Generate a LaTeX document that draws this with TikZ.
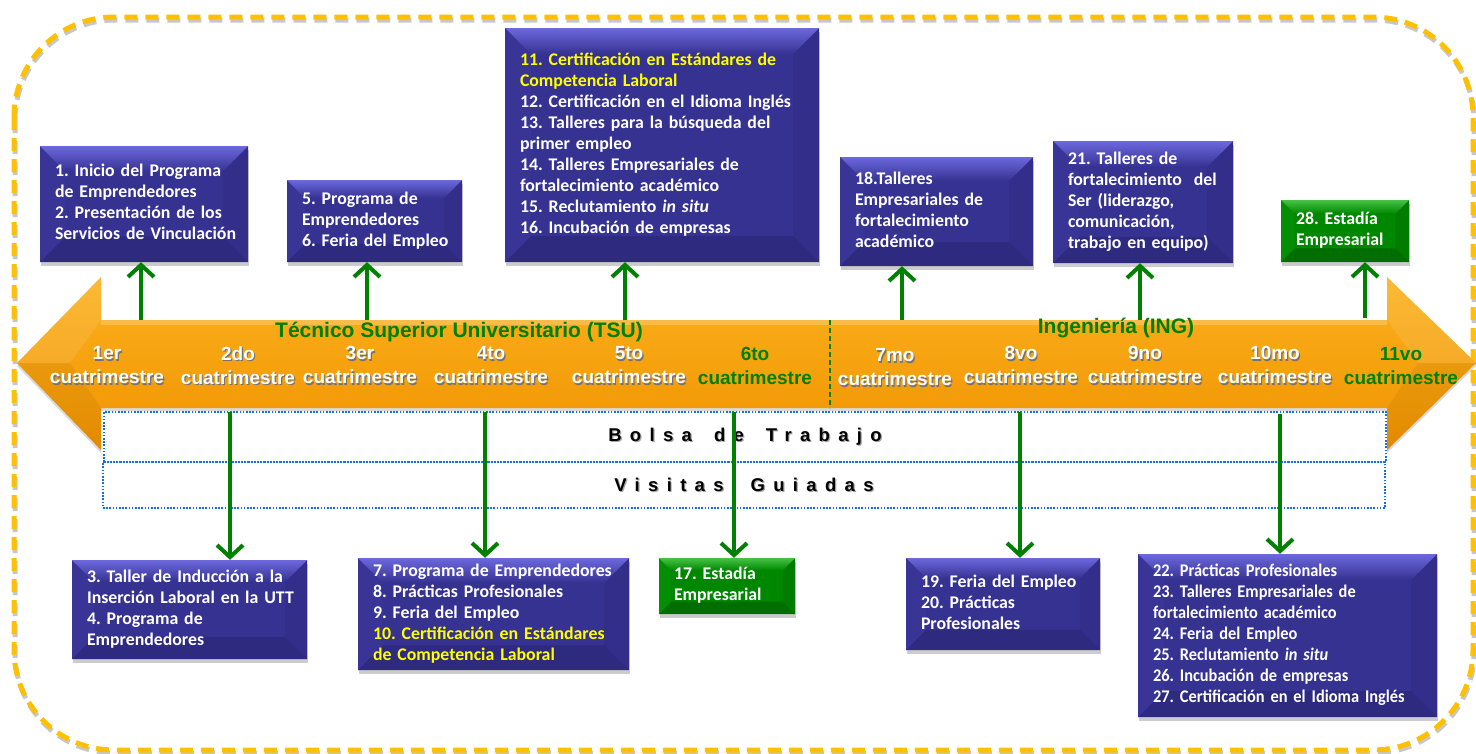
\documentclass[tikz,border=0pt]{standalone}
\usepackage{fontspec}
\usetikzlibrary{arrows.meta,shadows,calc}

\newfontfamily\cardfont{Carlito}[BoldFont={* Bold},BoldItalicFont={* Bold Italic}]
\newfontfamily\cardcond{Carlito}[BoldFont={* Bold},BoldItalicFont={* Bold Italic},FakeStretch=0.92]
\newfontfamily\arialfont{Liberation Sans}
\newfontfamily\spacedfont{Liberation Sans}[LetterSpace=45]

\definecolor{cblue}{RGB}{54,50,145}
\definecolor{cbluelt}{RGB}{108,104,222}
\definecolor{cbluedk}{RGB}{46,42,128}
\definecolor{cbluel}{RGB}{57,53,150}
\definecolor{cbluer}{RGB}{50,46,137}
\definecolor{cgreenbox}{RGB}{0,135,0}
\definecolor{cgreenlt}{RGB}{70,195,70}
\definecolor{cgreendk}{RGB}{0,110,0}
\definecolor{cgreenl}{RGB}{4,142,4}
\definecolor{cgreenr}{RGB}{0,124,0}
\definecolor{carrow}{RGB}{0,128,0}
\definecolor{ctitle}{RGB}{0,128,0}
\definecolor{cyell}{RGB}{255,255,0}
\definecolor{cframe}{RGB}{255,192,0}
\definecolor{cdot}{RGB}{20,110,235}
\definecolor{corange}{RGB}{247,160,0}
\definecolor{corangelt}{RGB}{252,178,30}
\definecolor{corangedk}{RGB}{240,146,0}

\frenchspacing
\newcommand\cardtext{\cardfont\bfseries\fontsize{17.8}{21}\selectfont}
\newcommand\condtext{\cardcond\bfseries\fontsize{17.8}{21}\selectfont}
% text with a small offset shadow behind it
\newcommand\shd[2][black!55]{\leavevmode\rlap{\kern1.2pt\raisebox{-1.2pt}{\textcolor{#1}{#2}}}#2}

% bevelled card: name, x1, y1, x2, y2, style, raise, lines
\newcommand\card[8]{%
  \pgfmathsetmacro\cw{#4-#2}\pgfmathsetmacro\ch{#5-#3}\pgfmathsetmacro\tw{#4-#2-30}%
  \pgfmathsetmacro\bvs{min(0.22*\ch,26)}%
  \node[#6, minimum width=\cw pt, minimum height=\ch pt, text width=\tw pt]
    (#1) at ({(#2+#4)/2},{(#3+#5)/2})
    {\raisebox{#7}{\begin{tabular}{@{}l@{}}#8\end{tabular}}};}

\begin{document}
\begin{tikzpicture}[x=1pt,y=-1pt,
  card/.style={rectangle, inner xsep=15pt, inner ysep=0pt, align=left,
    text=white, font=\cardtext,
    drop shadow={shadow xshift=1pt, shadow yshift=-4pt, opacity=.4}},
  bevel/.style n args={5}{fill=#1, path picture={
    \fill[#4] (path picture bounding box.north west)
      -- ([xshift=\bvs pt,yshift=-\bvs pt]path picture bounding box.north west)
      -- ([xshift=\bvs pt,yshift=\bvs pt]path picture bounding box.south west)
      -- (path picture bounding box.south west) -- cycle;
    \fill[#5] (path picture bounding box.north east)
      -- ([xshift=-\bvs pt,yshift=-\bvs pt]path picture bounding box.north east)
      -- ([xshift=-\bvs pt,yshift=\bvs pt]path picture bounding box.south east)
      -- (path picture bounding box.south east) -- cycle;
    \shade[top color=#2, bottom color=#1] (path picture bounding box.north west)
      -- (path picture bounding box.north east)
      -- ([xshift=-\bvs pt,yshift=-\bvs pt]path picture bounding box.north east)
      -- ([xshift=\bvs pt,yshift=-\bvs pt]path picture bounding box.north west) -- cycle;
    \fill[#3] (path picture bounding box.south west)
      -- (path picture bounding box.south east)
      -- ([xshift=-\bvs pt,yshift=\bvs pt]path picture bounding box.south east)
      -- ([xshift=\bvs pt,yshift=\bvs pt]path picture bounding box.south west) -- cycle;
  }},
  bluecard/.style={card, bevel={cblue}{cbluelt}{cbluedk}{cbluel}{cbluer}},
  greencard/.style={card, bevel={cgreenbox}{cgreenlt}{cgreendk}{cgreenl}{cgreenr}},
  condcard/.style={bluecard, font=\condtext},
  sem/.style={align=center, inner sep=0pt, text=white,
    font=\arialfont\bfseries\fontsize{19}{24}\selectfont},
  semgreen/.style={sem, text=ctitle},
  title/.style={inner sep=0pt, text=ctitle,
    font=\arialfont\bfseries\fontsize{21}{24}\selectfont},
  dotbox/.style={draw=cdot, line width=2pt, dash pattern=on 1.6pt off 1.6pt,
    inner sep=0pt, font=\spacedfont\bfseries\fontsize{18.5}{20}\selectfont},
  garrow/.style={draw=carrow, line width=4pt,
    -{Straight Barb[length=12pt,width=26pt,line width=4pt]}},
]
\useasboundingbox (0,0) rectangle (1476,753);

% dashed frame with its soft shadow
\draw[black!22, line width=5pt, dash pattern=on 13pt off 8pt,
  rounded corners=100pt, xshift=1pt, yshift=-3pt] (14,17) rectangle (1473,750);
\draw[cframe, line width=5pt, dash pattern=on 13pt off 8pt,
  rounded corners=100pt] (14,17) rectangle (1473,750);

% double-headed timeline arrow
\path[drop shadow={shadow xshift=0pt, shadow yshift=-3pt, opacity=.3},
  top color=corangelt, middle color=corange, bottom color=corangedk]
  (17,363) -- (101,277) -- (101,320) -- (1387,320) -- (1387,277)
  -- (1476,363) -- (1387,450) -- (1387,408) -- (101,408) -- (101,450) -- cycle;
\fill[white, opacity=.10] (17,363) -- (101,277) -- (101,320) -- (70,363) -- cycle;
\fill[black, opacity=.05] (17,363) -- (101,450) -- (101,408) -- (70,363) -- cycle;
\fill[white, opacity=.10] (1476,363) -- (1387,277) -- (1387,320) -- (1418,363) -- cycle;
\fill[black, opacity=.05] (1476,363) -- (1387,450) -- (1387,408) -- (1418,363) -- cycle;
\fill[white, opacity=.22] (101,320) rectangle (1387,325);

% divider between the two programmes
\draw[carrow, line width=1.5pt, dash pattern=on 5pt off 3pt] (830,320) -- (830,408);

% programme titles
\node[title] (tsu) at (459,332) {Técnico Superior Universitario (TSU)};
\node[title] (ing) at (1116,328) {Ingeniería (ING)};

% semester labels
\node[sem] (s1) at (107,366) {\shd{1er}\\\shd{cuatrimestre}};
\node[sem] (s2) at (238,366) {\shd{2do}\\\shd{cuatrimestre}};
\node[sem] (s3) at (360,366) {\shd{3er}\\\shd{cuatrimestre}};
\node[sem] (s4) at (491,366) {\shd{4to}\\\shd{cuatrimestre}};
\node[sem] (s5) at (629,366) {\shd{5to}\\\shd{cuatrimestre}};
\node[semgreen] (s6) at (755,366) {6to\\cuatrimestre};
\node[sem] (s7) at (895,368) {\shd{7mo}\\\shd{cuatrimestre}};
\node[sem] (s8) at (1021,366) {\shd{8vo}\\\shd{cuatrimestre}};
\node[sem] (s9) at (1145,366) {\shd{9no}\\\shd{cuatrimestre}};
\node[sem] (s10) at (1275,366) {\shd{10mo}\\\shd{cuatrimestre}};
\node[semgreen] (s11) at (1401,366) {11vo\\cuatrimestre};

% permanent activities
\node[dotbox, minimum width=1282pt, minimum height=50pt] (bolsa) at (745,437)
  {\shd[black!35]{Bolsa}\hspace*{22pt}\shd[black!35]{de}\hspace*{22pt}\shd[black!35]{Trabajo}};
\node[dotbox, minimum width=1282pt, minimum height=46pt] (visitas) at (744,485)
  {\shd[black!35]{Visitas}\hspace*{27pt}\shd[black!35]{Guiadas}};

% activity cards above the timeline
\card{b1}{40}{146}{248}{262}{bluecard}{0pt}{1. Inicio del Programa\\de Emprendedores\\2. Presentación de los\\Servicios de Vinculación}
\card{b2}{287}{180}{462}{262}{bluecard}{9pt}{5. Programa de\\Emprendedores\\6. Feria del Empleo}
\card{b3}{505}{28}{819}{262}{bluecard}{0pt}{\color{cyell}11. Certificación en Estándares de\\\color{cyell}Competencia Laboral\\12. Certificación en el Idioma Inglés\\13. Talleres para la búsqueda del\\primer empleo\\14. Talleres Empresariales de\\fortalecimiento académico\\15. Reclutamiento \textit{in situ}\\16. Incubación de empresas}
\card{b4}{840}{157}{1033}{266}{bluecard}{0pt}{18.Talleres\\Empresariales de\\fortalecimiento\\académico}
\card{b5}{1053}{141}{1233}{263}{bluecard}{0pt}{21. Talleres de\\fortalecimiento\ \ del\\Ser (liderazgo,\\comunicación,\\trabajo en equipo)}
\card{b6}{1281}{200}{1409}{262}{greencard}{8pt}{28. Estadía\\Empresarial}

% activity cards below the timeline
\card{b7}{72}{560}{307}{659}{bluecard}{0pt}{3. Taller de Inducción a la\\Inserción Laboral en la UTT\\4. Programa de\\Emprendedores}
\card{b8}{358}{558}{629}{670}{bluecard}{0pt}{7. Programa de Emprendedores\\8. Prácticas Profesionales\\9. Feria del Empleo\\\color{cyell}10. Certificación en Estándares\\\color{cyell}de Competencia Laboral}
\card{b9}{659}{558}{795}{614}{greencard}{0pt}{17. Estadía\\Empresarial}
\card{b10}{906}{558}{1100}{650}{bluecard}{0pt}{19. Feria del Empleo\\20. Prácticas\\Profesionales}
\card{b11}{1138}{554}{1437}{717}{condcard}{0pt}{22. Prácticas Profesionales\\23. Talleres Empresariales de\\fortalecimiento académico\\24. Feria del Empleo\\25. Reclutamiento \textit{in situ}\\26. Incubación de empresas\\27. Certificación en el Idioma Inglés}

% arrow start points on the timeline
\coordinate (u1) at (141,320);
\coordinate (u2) at (367,320);
\coordinate (u3) at (625,320);
\coordinate (u4) at (902,320);
\coordinate (u5) at (1140,320);
\coordinate (u6) at (1365,318);
\coordinate (d1) at (230,412);
\coordinate (d2) at (485,412);
\coordinate (d3) at (734,412);
\coordinate (d4) at (1020,412);
\coordinate (d5) at (1280,414);

\draw[garrow] (u1) -- (u1 |- b1.south);
\draw[garrow] (u2) -- (u2 |- b2.south);
\draw[garrow] (u3) -- (u3 |- b3.south);
\draw[garrow] (u4) -- (u4 |- b4.south);
\draw[garrow] (u5) -- (u5 |- b5.south);
\draw[garrow] (u6) -- (u6 |- b6.south);
\draw[garrow] (d1) -- (d1 |- b7.north);
\draw[garrow] (d2) -- (d2 |- b8.north);
\draw[garrow] (d3) -- (d3 |- b9.north);
\draw[garrow] (d4) -- (d4 |- b10.north);
\draw[garrow] (d5) -- (d5 |- b11.north);
\end{tikzpicture}
\end{document}
